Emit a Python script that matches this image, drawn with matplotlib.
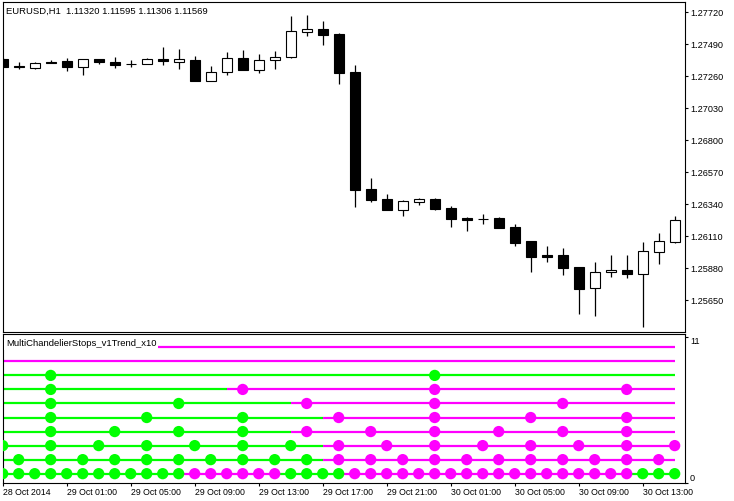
import matplotlib
matplotlib.use('Agg')
import matplotlib.pyplot as plt
from matplotlib.collections import LineCollection

plt.rcParams['font.family'] = ['Liberation Sans', 'DejaVu Sans']

title_text = "EURUSD,H1  1.11320 1.11595 1.11306 1.11569"
indicator_name = "MultiChandelierStops_v1Trend_x10"

opens = [1.27386, 1.27333, 1.27323, 1.27364, 1.27371, 1.27330, 1.27386, 1.27364, 1.27350, 1.27348,
         1.27386, 1.27366, 1.27379, 1.27230, 1.27290, 1.27393, 1.27309, 1.27376, 1.27398, 1.27582,
         1.27601, 1.27568, 1.27292, 1.26451, 1.26380, 1.26303, 1.26356, 1.26380, 1.26315, 1.26243,
         1.26238, 1.26243, 1.26178, 1.26078, 1.25975, 1.25975, 1.25889, 1.25738, 1.25853, 1.25869,
         1.25843, 1.26001, 1.26071]
highs = [1.27390, 1.27364, 1.27364, 1.27379, 1.27391, 1.27388, 1.27388, 1.27400, 1.27379, 1.27393,
         1.27472, 1.27458, 1.27410, 1.27335, 1.27436, 1.27450, 1.27422, 1.27443, 1.27697, 1.27704,
         1.27659, 1.27570, 1.27343, 1.26530, 1.26415, 1.26372, 1.26387, 1.26389, 1.26331, 1.26248,
         1.26274, 1.26252, 1.26202, 1.26080, 1.26042, 1.26025, 1.25890, 1.25927, 1.25975, 1.25975,
         1.26071, 1.26135, 1.26257]
lows = [1.27325, 1.27310, 1.27316, 1.27353, 1.27300, 1.27273, 1.27348, 1.27321, 1.27330, 1.27346,
        1.27345, 1.27316, 1.27230, 1.27228, 1.27273, 1.27307, 1.27285, 1.27316, 1.27396, 1.27553,
        1.27489, 1.27206, 1.26324, 1.26360, 1.26301, 1.26260, 1.26339, 1.26303, 1.26180, 1.26152,
        1.26202, 1.26169, 1.26044, 1.25857, 1.25929, 1.25835, 1.25553, 1.25541, 1.25821, 1.25814,
        1.25462, 1.25915, 1.26064]
closes = [1.27330, 1.27330, 1.27357, 1.27355, 1.27330, 1.27386, 1.27364, 1.27345, 1.27349, 1.27386,
          1.27371, 1.27386, 1.27230, 1.27295, 1.27391, 1.27309, 1.27376, 1.27400, 1.27585, 1.27599,
          1.27560, 1.27287, 1.26446, 1.26374, 1.26303, 1.26365, 1.26380, 1.26310, 1.26238, 1.26231,
          1.26237, 1.26173, 1.26065, 1.25965, 1.25965, 1.25886, 1.25735, 1.25853, 1.25869, 1.25843,
          1.26006, 1.26076, 1.26226]

price_ticks = [1.27720, 1.27490, 1.27260, 1.27030, 1.26800, 1.26570, 1.26340, 1.26110, 1.25880, 1.25650]
price_labels = ["1.27720", "1.27490", "1.27260", "1.27030", "1.26800", "1.26570", "1.26340",
                "1.26110", "1.25880", "1.25650"]

time_tick_bars = [0, 4, 8, 12, 16, 20, 24, 28, 32, 36, 40]
time_labels = ["28 Oct 2014", "29 Oct 01:00", "29 Oct 05:00", "29 Oct 09:00", "29 Oct 13:00",
               "29 Oct 17:00", "29 Oct 21:00", "30 Oct 01:00", "30 Oct 05:00", "30 Oct 09:00",
               "30 Oct 13:00"]

# trend state per bar for each of the 10 lines (bottom line first); G = up, M = down
row_states = [
    "GGGGGGGGGGGGMMMMMMGGGGMMMMMMMMMMMMMMMMMMGGG",
    "GGGGGGGGGGGGGGGGGGGGGMMMMMMMMMMMMMMMMMMMMMM",
    "GGGGGGGGGGGGGGGGGGGGGMMMMMMMMMMMMMMMMMMMMMM",
    "GGGGGGGGGGGGGGGGGGGMMMMMMMMMMMMMMMMMMMMMMMM",
    "GGGGGGGGGGGGGGGGGGGGGMMMMMMMMMMMMMMMMMMMMMM",
    "GGGGGGGGGGGGGGGGGGGMMMMMMMMMMMMMMMMMMMMMMMM",
    "GGGGGGGGGGGGGGGMMMMMMMMMMMMMMMMMMMMMMMMMMMM",
    "GGGGGGGGGGGGGGGGGGGGGGGGGGGGGGGGGGGGGGGGGGG",
    "MMMMMMMMMMMMMMMMMMMMMMMMMMMMMMMMMMMMMMMMMMM",
    "MMMMMMMMMMMMMMMMMMMMMMMMMMMMMMMMMMMMMMMMMMM",
]
row_levels = [1, 2, 3, 4, 5, 6, 7, 8, 9, 10]
# bars where each line has a dot (new bar of its timeframe)
row_dots = [
    list(range(0, 43)),
    [1, 3, 5, 7, 9, 11, 13, 15, 17, 19, 21, 23, 25, 27, 29, 31, 33, 35, 37, 39, 41],
    [0, 3, 6, 9, 12, 15, 18, 21, 24, 27, 30, 33, 36, 39, 42],
    [3, 7, 11, 15, 19, 23, 27, 31, 35, 39],
    [3, 9, 15, 21, 27, 33, 39],
    [3, 11, 19, 27, 35],
    [3, 15, 27, 39],
    [3, 27],
    [],
    [],
]
scale_labels = ["0", "11"]

state_colors = {"G": "#00FF00", "M": "#FF00FF"}

W, H = 734, 501
fig = plt.figure(figsize=(W / 100, H / 100), dpi=100)

def px_axes(left, top, right, bottom):
    return fig.add_axes([left / W, 1 - bottom / H, (right - left) / W, (bottom - top) / H])

ax = px_axes(2.7, 2.0, 685.0, 332.3)
ax2 = px_axes(2.7, 334.3, 685.0, 483.3)

n = len(opens)
xs = list(range(n))
xlim = (0, (685.0 - 2.7) / 16.0)

# ---- candles ----
ax.vlines(xs, lows, highs, color='black', linewidth=0.9, zorder=2)
bottoms = [min(o, c) for o, c in zip(opens, closes)]
heights = [max(abs(c - o), 0.000004) for o, c in zip(opens, closes)]
face = ['white' if c > o else 'black' for o, c in zip(opens, closes)]
ax.bar(xs, heights, bottom=bottoms, width=0.62, color=face, edgecolor='black',
       linewidth=0.8, zorder=3)

ax.set_xlim(*xlim)
ax.set_ylim(1.25421, 1.27795)
ax.set_xticks([])
ax.yaxis.tick_right()
ax.set_yticks(price_ticks)
ax.set_yticklabels(price_labels)
ax.tick_params(axis='y', direction='out', length=2.4, width=0.8, pad=1.2, labelsize=6.6)
for s in ax.spines.values():
    s.set_linewidth(0.8)
ax.text(0.005, 0.985, title_text, transform=ax.transAxes, ha='left', va='top', fontsize=6.8)

# ---- indicator lines ----
for states, lvl, dots in zip(row_states, row_levels, row_dots):
    segs = [[(k - 1, lvl), (k, lvl)] for k in range(1, len(states))]
    cols = [state_colors[states[k]] for k in range(1, len(states))]
    ax2.add_collection(LineCollection(segs, colors=cols, linewidths=1.6, capstyle='butt', zorder=2))
    if dots:
        ax2.scatter(dots, [lvl] * len(dots), s=66, c=[state_colors[states[d]] for d in dots],
                    linewidths=0, zorder=3)

ylo, yhi = 1 - (483.3 - 473.7) / 14.0, 10 + (347.3 - 334.3) / 14.0
ax2.set_xlim(*xlim)
ax2.set_ylim(ylo, yhi)
ax2.yaxis.tick_right()
ax2.set_yticks([ylo + 0.01, yhi - 0.2])
ax2.set_yticklabels(scale_labels)
ax2.tick_params(axis='y', direction='out', length=2.4, width=0.8, pad=1.2, labelsize=6.6)
labs = ax2.get_yticklabels()
labs[0].set_va('bottom')
labs[1].set_va('top')
ax2.set_xticks(time_tick_bars)
ax2.set_xticklabels(time_labels)
for lab in ax2.get_xticklabels():
    lab.set_ha('left')
ax2.tick_params(axis='x', direction='out', length=2.4, width=0.8, pad=1.0, labelsize=6.3)
for s in ax2.spines.values():
    s.set_linewidth(0.8)

fig.text(6 / W, 1 - 344 / H, indicator_name, ha='left', va='center', fontsize=6.8,
         bbox=dict(facecolor='white', edgecolor='none', pad=1.2), zorder=10)

fig.savefig('out.png', dpi=100)
